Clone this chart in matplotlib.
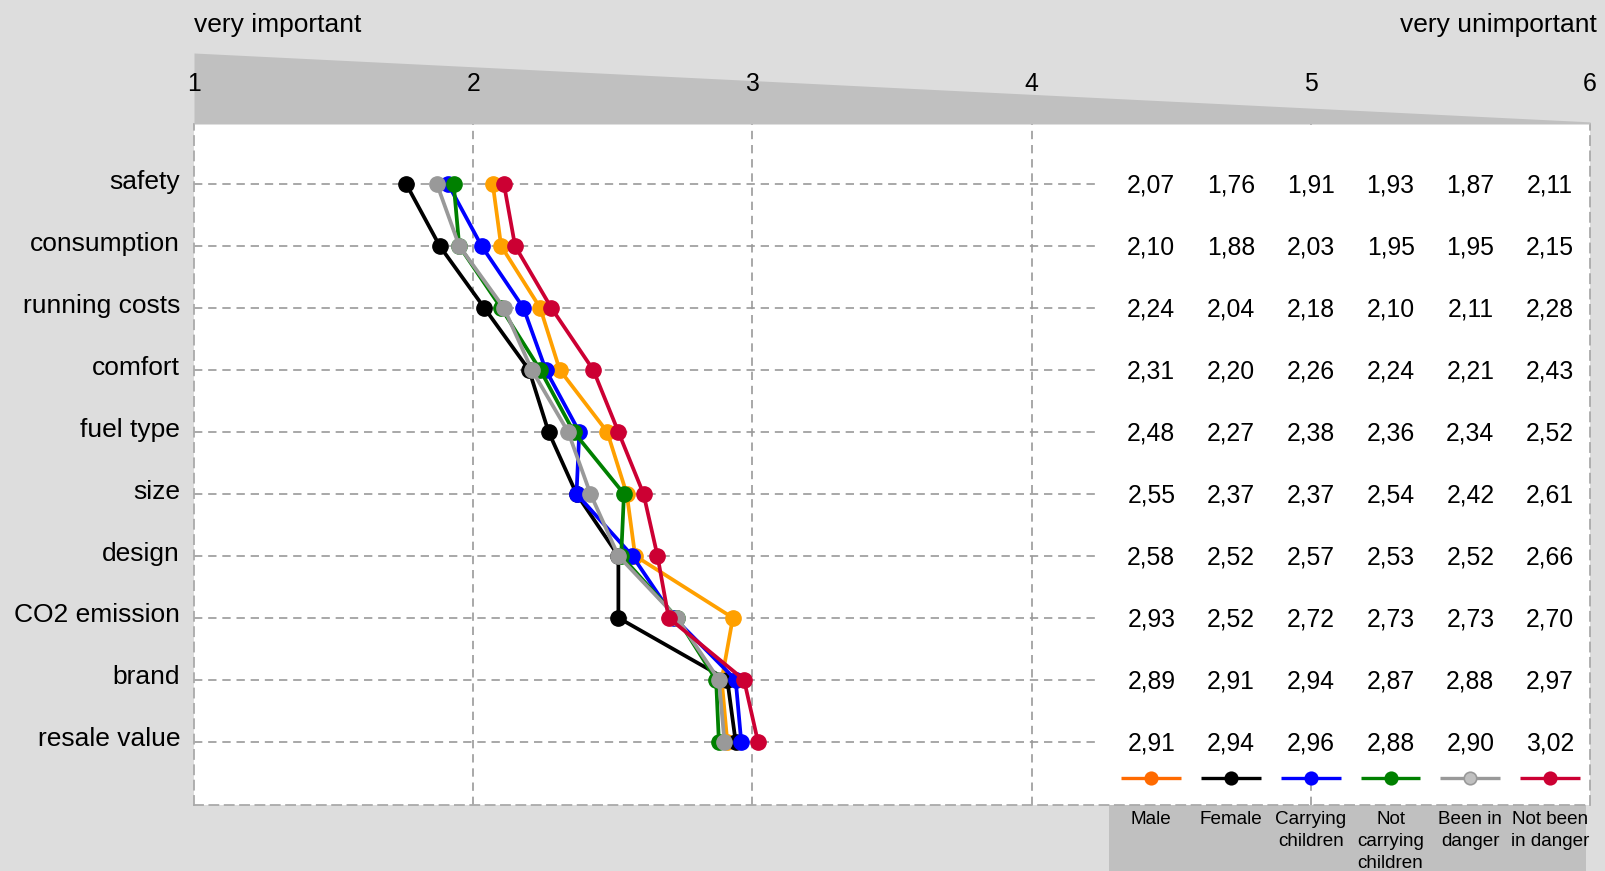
import matplotlib.pyplot as plt
from matplotlib.patches import Rectangle

plt.rcParams['font.family'] = ['Liberation Sans', 'DejaVu Sans']

categories = ["safety", "consumption", "running costs", "comfort", "fuel type",
              "size", "design", "CO2 emission", "brand", "resale value"]
male = [2.07, 2.10, 2.24, 2.31, 2.48, 2.55, 2.58, 2.93, 2.89, 2.91]
female = [1.76, 1.88, 2.04, 2.20, 2.27, 2.37, 2.52, 2.52, 2.91, 2.94]
carrying = [1.91, 2.03, 2.18, 2.26, 2.38, 2.37, 2.57, 2.72, 2.94, 2.96]
not_carrying = [1.93, 1.95, 2.10, 2.24, 2.36, 2.54, 2.53, 2.73, 2.87, 2.88]
been_danger = [1.87, 1.95, 2.11, 2.21, 2.34, 2.42, 2.52, 2.73, 2.88, 2.90]
not_been_danger = [2.11, 2.15, 2.28, 2.43, 2.52, 2.61, 2.66, 2.70, 2.97, 3.02]

group_labels = ["Male", "Female", "Carrying\nchildren", "Not\ncarrying\nchildren",
                "Been in\ndanger", "Not been\nin danger"]
series = [male, female, carrying, not_carrying, been_danger, not_been_danger]
line_colors = ["#ffa000", "#000000", "#0000ff", "#008000", "#999999", "#cc0033"]
legend_colors = ["#ff6a00", "#000000", "#0000ff", "#008000", "#999999", "#cc0033"]
legend_faces = ["#ff6a00", "#000000", "#0000ff", "#008000", "#c0c0c0", "#cc0033"]
scale_ticks = [1, 2, 3, 4, 5, 6]

W, H = 1605, 871
fig = plt.figure(figsize=(W / 100, H / 100), dpi=100)
fig.patch.set_facecolor("#dddddd")

# pixel layout
x0, x1 = 194, 1590
top, bottom = 124, 805
ax = fig.add_axes([x0 / W, (H - bottom) / H, (x1 - x0) / W, (bottom - top) / H])
ax.set_facecolor("white")
ax.set_xlim(1, 6)
ax.set_ylim(10.02, -0.968)
ax.set_xticks([])
ax.set_yticks([])

grid_kw = dict(color="#999999", lw=1.2, ls=(0, (5, 3.5)), zorder=1)
rows = list(range(len(categories)))
for r in rows:
    ax.axhline(r, **grid_kw)
for t in scale_ticks[1:-1]:
    ax.axvline(t, **grid_kw)

for name, sp in ax.spines.items():
    if name == "top":
        sp.set_visible(False)
    else:
        sp.set_color("#aaaaaa")
        sp.set_linewidth(1.3)
        sp.set_linestyle((0, (5, 3.5)))

# white area behind the value table
col_x = [5 + 0.2857 * (i - 2) for i in range(len(series))]
ax.add_patch(Rectangle((4.244, -0.9), 6 - 4.244, 10.48, facecolor="white",
                       edgecolor="none", zorder=1.5))

# lines
for vals, c in zip(series, line_colors):
    ax.plot(vals, rows, color=c, lw=2.7, marker="o", markersize=11, zorder=3)

# category labels
for r, cat in zip(rows, categories):
    ax.text(0.95, r + 0.075, cat, ha="right", va="baseline", fontsize=19,
            clip_on=False)

# value table
for i, vals in enumerate(series):
    for r, v in zip(rows, vals):
        ax.text(col_x[i], r + 0.14, f"{v:.2f}".replace(".", ","), ha="center",
                va="baseline", fontsize=17.8, zorder=4)

# legend
ly = 9.58
for i in range(len(series)):
    cx = col_x[i]
    ax.plot([cx - 0.107, cx + 0.107], [ly, ly], color=legend_colors[i], lw=2.4,
            solid_capstyle="butt", zorder=4)
    ax.plot([cx], [ly], marker="o", markersize=9, color=legend_faces[i],
            markeredgecolor=legend_colors[i], markeredgewidth=1.2, zorder=5)
    ax.text(cx, 10.11, group_labels[i], ha="center", va="top", fontsize=13.6,
            linespacing=1.42, zorder=5, clip_on=False)
ax.add_patch(Rectangle((4.277, 10.02), 5.986 - 4.277, 1.2, facecolor="#c0c0c0",
                       edgecolor="none", zorder=0.5, clip_on=False))

# top scale wedge
wedge_top = 53
axt = fig.add_axes([x0 / W, (H - top) / H, (x1 - x0) / W, (top - wedge_top) / H])
axt.set_xlim(1, 6)
axt.set_ylim(0, 1)
axt.axis("off")
axt.fill_between([1, 6], [0, 0], [1, 0.03], color="#c0c0c0", lw=0)
for t in scale_ticks:
    axt.text(t, 0.47, str(t), ha="center", va="baseline", fontsize=17.8,
             clip_on=False)

fig.text(x0 / W, 1 - 32 / H, "very important", ha="left", va="baseline", fontsize=19)
fig.text(1597 / W, 1 - 32 / H, "very unimportant", ha="right", va="baseline", fontsize=19)

fig.savefig("out.png", dpi=100, facecolor=fig.get_facecolor())
